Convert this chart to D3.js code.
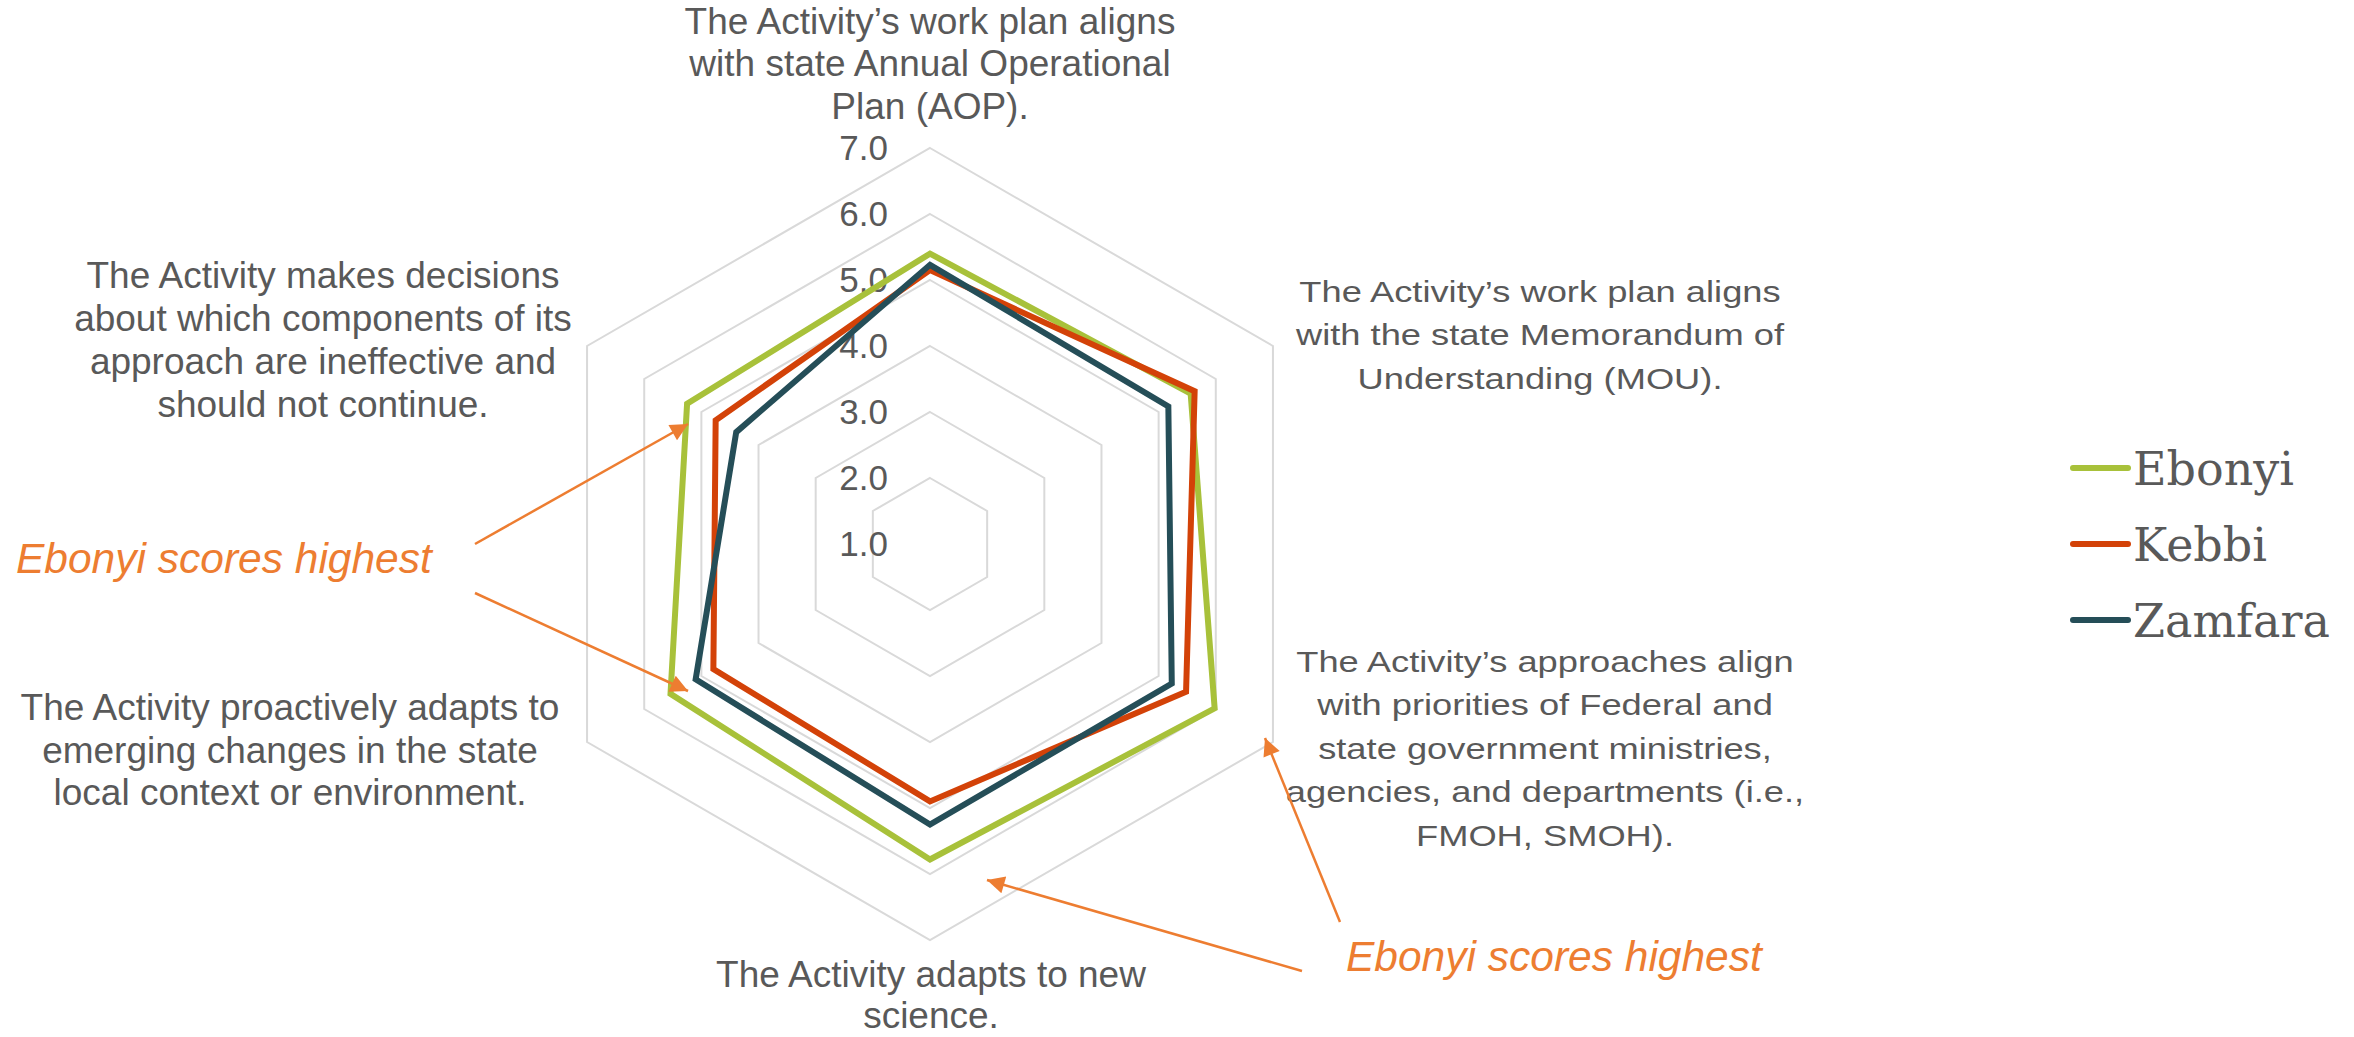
<!DOCTYPE html>
<html>
<head>
<meta charset="utf-8">
<script src="https://d3js.org/d3.v7.min.js"></script>
<style>
  html, body { margin: 0; padding: 0; background: #ffffff; }
  svg { display: block; }
</style>
</head>
<body>
<svg id="chart" width="2354" height="1037"></svg>
<script>
// ---------------- DATA ----------------
const categories = [
  "The Activity’s work plan aligns with state Annual Operational Plan (AOP).",
  "The Activity’s work plan aligns with the state Memorandum of Understanding (MOU).",
  "The Activity’s approaches align with priorities of Federal and state government ministries, agencies, and departments (i.e., FMOH, SMOH).",
  "The Activity adapts to new science.",
  "The Activity proactively adapts to emerging changes in the state local context or environment.",
  "The Activity makes decisions about which components of its approach are ineffective and should not continue."
];
const categoryLines = [
  ["The Activity’s work plan aligns", "with state Annual Operational", "Plan (AOP)."],
  ["The Activity’s work plan aligns", "with the state Memorandum of", "Understanding (MOU)."],
  ["The Activity’s approaches align", "with priorities of Federal and", "state government ministries,", "agencies, and departments (i.e.,", "FMOH, SMOH)."],
  ["The Activity adapts to new", "science."],
  ["The Activity proactively adapts to", "emerging changes in the state", "local context or environment."],
  ["The Activity makes decisions", "about which components of its", "approach are ineffective and", "should not continue."]
];
const seriesNames = ["Ebonyi", "Kebbi", "Zamfara"];
const ebonyi  = [5.40, 5.56, 5.98, 5.78, 5.54, 5.25];
const kebbi   = [5.15, 5.63, 5.48, 4.90, 4.79, 4.75];
const zamfara = [5.23, 5.17, 5.23, 5.25, 5.10, 4.39];
const tickValues = [1, 2, 3, 4, 5, 6, 7];
const tickLabels = ["1.0", "2.0", "3.0", "4.0", "5.0", "6.0", "7.0"];
const annotationText = "Ebonyi scores highest";

// ---------------- STYLE / LAYOUT ----------------
const colors = ["#A8C13A", "#D34208", "#254E58"];
const seriesValues = [ebonyi, kebbi, zamfara];
const textColor = "#595959";
const gridColor = "#D9D9D9";
const orange = "#ED7D31";
const cx = 930, cy = 544, R = 396;

const svg = d3.select("#chart");

const r = d3.scaleLinear().domain([1, 7]).range([0, R]);
const angle = d3.scaleLinear().domain([0, categories.length]).range([0, 2 * Math.PI]);

const g = svg.append("g").attr("transform", `translate(${cx},${cy})`);

// grid rings (hexagons)
const ringLine = d3.lineRadial()
  .angle((d, i) => angle(i))
  .radius(d => r(d))
  .curve(d3.curveLinearClosed);

g.append("g").selectAll("path")
  .data(tickValues.slice(1))
  .join("path")
  .attr("d", v => ringLine(categories.map(() => v)))
  .attr("fill", "none")
  .attr("stroke", gridColor)
  .attr("stroke-width", 2);

// tick labels
g.append("g").selectAll("text")
  .data(tickValues)
  .join("text")
  .attr("x", -42)
  .attr("y", v => -r(v) + 12)
  .attr("text-anchor", "end")
  .attr("font-family", "Liberation Sans, Arial, sans-serif")
  .attr("font-size", 35)
  .attr("fill", textColor)
  .text((v, i) => tickLabels[i]);

// series
const seriesLine = d3.lineRadial()
  .angle((d, i) => angle(i))
  .radius(d => r(d))
  .curve(d3.curveLinearClosed);

g.append("g").selectAll("path")
  .data(seriesValues)
  .join("path")
  .attr("d", d => seriesLine(d))
  .attr("fill", "none")
  .attr("stroke", (d, i) => colors[i])
  .attr("stroke-width", 6)
  .attr("stroke-linejoin", "miter");

// category labels
const labelLayout = [
  { x: 930,  y: 33.5, dy: 42.5, fs: 37, sx: 1.0 },
  { x: 1540, y: 302,  dy: 43.5, fs: 30, sx: 1.21 },
  { x: 1545, y: 672,  dy: 43.5, fs: 30, sx: 1.21 },
  { x: 931,  y: 987,  dy: 41,   fs: 37, sx: 1.0 },
  { x: 290,  y: 720,  dy: 42.5, fs: 37, sx: 1.0 },
  { x: 323,  y: 288,  dy: 43,   fs: 37, sx: 1.0 }
];
categoryLines.forEach((lines, i) => {
  const L = labelLayout[i];
  const t = svg.append("g")
    .attr("transform", `translate(${L.x},${L.y}) scale(${L.sx},1)`)
    .append("text")
    .attr("text-anchor", "middle")
    .attr("font-family", "Liberation Sans, Arial, sans-serif")
    .attr("font-size", L.fs)
    .attr("fill", textColor);
  t.selectAll("tspan").data(lines).join("tspan")
    .attr("x", 0)
    .attr("y", (d, j) => j * L.dy)
    .text(d => d);
});

// legend
const legend = svg.append("g");
seriesNames.forEach((name, i) => {
  const y = 468 + i * 76;
  legend.append("line")
    .attr("x1", 2073).attr("x2", 2128)
    .attr("y1", y).attr("y2", y)
    .attr("stroke", colors[i])
    .attr("stroke-width", 6)
    .attr("stroke-linecap", "round");
  legend.append("text")
    .attr("x", 2133).attr("y", y + 17)
    .attr("font-family", "DejaVu Serif, Georgia, serif")
    .attr("font-size", 46)
    .attr("fill", textColor)
    .text(name);
});

// annotations
const defs = svg.append("defs");
defs.append("marker")
  .attr("id", "arrow")
  .attr("viewBox", "0 0 10 10")
  .attr("refX", 10).attr("refY", 5)
  .attr("markerWidth", 8).attr("markerHeight", 7)
  .attr("markerUnits", "strokeWidth")
  .attr("orient", "auto")
  .append("path")
  .attr("d", "M0,0 L10,5 L0,10 Z")
  .attr("fill", orange);

const ann = svg.append("g");
ann.append("text")
  .attr("x", 16).attr("y", 573)
  .attr("font-family", "Liberation Sans, Arial, sans-serif")
  .attr("font-style", "italic")
  .attr("font-size", 42.5)
  .attr("fill", orange)
  .text(annotationText);
ann.append("text")
  .attr("x", 1346).attr("y", 971)
  .attr("font-family", "Liberation Sans, Arial, sans-serif")
  .attr("font-style", "italic")
  .attr("font-size", 42.5)
  .attr("fill", orange)
  .text(annotationText);

const arrows = [
  [475, 544, 688, 424],
  [475, 593, 688, 691],
  [1340, 922, 1265, 738],
  [1302, 971, 987, 880]
];
ann.selectAll("line.arr").data(arrows).join("line")
  .attr("class", "arr")
  .attr("x1", d => d[0]).attr("y1", d => d[1])
  .attr("x2", d => d[2]).attr("y2", d => d[3])
  .attr("stroke", orange)
  .attr("stroke-width", 2.5)
  .attr("marker-end", "url(#arrow)");
</script>
</body>
</html>
